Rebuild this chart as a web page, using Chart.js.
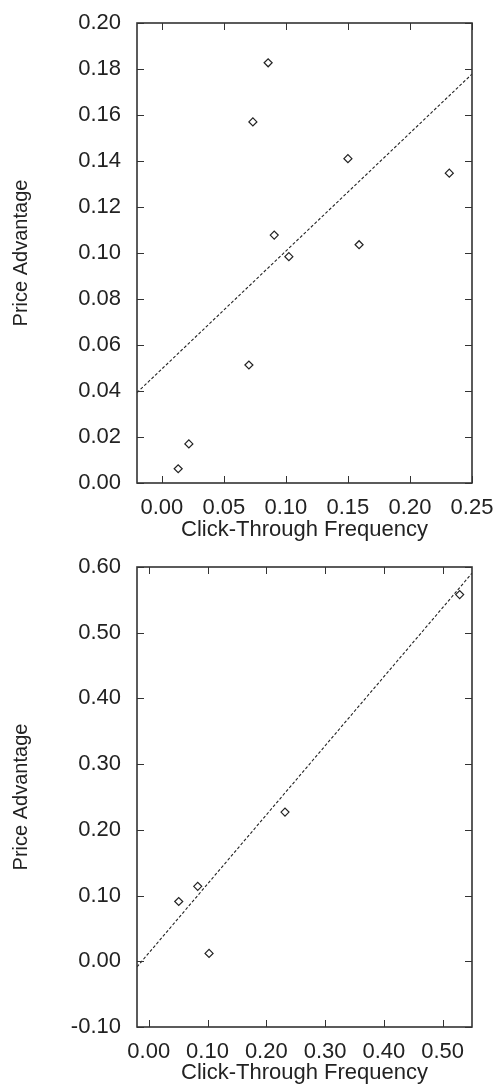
<!DOCTYPE html>
<html>
<head>
<meta charset="utf-8">
<script src="https://cdn.jsdelivr.net/npm/chart.js@4.4.0/dist/chart.umd.min.js"></script>
<style>
  body { margin: 0; background: #fff; }
  canvas { display: block; }
</style>
</head>
<body>
<canvas id="topChart" width="494" height="543"></canvas>
<canvas id="bottomChart" width="494" height="543"></canvas>
<script>
// top panel
const topX = [0.0132, 0.0218, 0.0702, 0.0734, 0.0857, 0.0906, 0.1024, 0.150, 0.159, 0.2317];
const topY = [0.0062, 0.0170, 0.0513, 0.1570, 0.1827, 0.1078, 0.0984, 0.1410, 0.1036, 0.1347];
const topTrendX = [-0.02, 0.25];
const topTrendY = [0.0393, 0.1778];
const topXTicks = [0.00, 0.05, 0.10, 0.15, 0.20, 0.25];
const topYTicks = [0.00, 0.02, 0.04, 0.06, 0.08, 0.10, 0.12, 0.14, 0.16, 0.18, 0.20];

// bottom panel
const bottomX = [0.051, 0.0833, 0.1026, 0.2318, 0.529];
const bottomY = [0.091, 0.114, 0.012, 0.227, 0.558];
const bottomTrendX = [-0.02, 0.55];
const bottomTrendY = [-0.0085, 0.5906];
const bottomXTicks = [0.00, 0.10, 0.20, 0.30, 0.40, 0.50];
const bottomYTicks = [-0.10, 0.00, 0.10, 0.20, 0.30, 0.40, 0.50, 0.60];

const xTitle = 'Click-Through Frequency';
const yTitle = 'Price Advantage';

Chart.defaults.font.family = '"Liberation Sans", Arial, sans-serif';
Chart.defaults.color = '#222';

const toPoints = (xs, ys) => xs.map((x, i) => ({ x: x, y: ys[i] }));

// gnuplot-like frame with inward ticks on all four sides
const framePlugin = {
    id: 'frame',
    afterDatasetsDraw(chart) {
        const { ctx, chartArea: a, scales: { x, y } } = chart;
        const len = 7;
        ctx.save();
        ctx.strokeStyle = '#333';
        ctx.lineWidth = 1;
        ctx.beginPath();
        x.ticks.forEach(t => {
            const px = Math.round(x.getPixelForValue(t.value)) + 0.5;
            ctx.moveTo(px, a.bottom); ctx.lineTo(px, a.bottom - len);
            ctx.moveTo(px, a.top); ctx.lineTo(px, a.top + len);
        });
        y.ticks.forEach(t => {
            const py = Math.round(y.getPixelForValue(t.value)) + 0.5;
            ctx.moveTo(a.left, py); ctx.lineTo(a.left + len, py);
            ctx.moveTo(a.right, py); ctx.lineTo(a.right - len, py);
        });
        ctx.stroke();
        ctx.lineWidth = 1.6;
        ctx.strokeRect(a.left, a.top, a.right - a.left, a.bottom - a.top);
        ctx.restore();
    }
};

// invisible tick marks are used only to push the labels away from the frame
const hiddenGrid = (len) => ({
    display: true, drawOnChartArea: false, drawTicks: true,
    tickLength: len, tickColor: 'rgba(0,0,0,0)'
});

function makeChart(id, pts, trend, xr, yr, xTicks, yTicks, padTop) {
    return new Chart(document.getElementById(id), {
        type: 'scatter',
        data: {
            datasets: [{
                data: pts,
                pointStyle: 'rectRot',
                pointRadius: 4,
                pointBorderWidth: 1.2,
                borderColor: '#222',
                backgroundColor: 'rgba(0,0,0,0)'
            }, {
                type: 'line',
                data: trend,
                borderColor: '#222',
                borderWidth: 1.1,
                borderDash: [3, 2],
                pointRadius: 0,
                fill: false
            }]
        },
        options: {
            responsive: false,
            animation: false,
            devicePixelRatio: 1,
            layout: { padding: { left: 0, right: 22, top: padTop, bottom: 0 } },
            plugins: { legend: { display: false }, tooltip: { enabled: false } },
            scales: {
                x: {
                    type: 'linear',
                    min: xr[0], max: xr[1],
                    afterBuildTicks: s => { s.ticks = xTicks.map(v => ({ value: v })); },
                    afterFit: s => { s.height = 543 - 483 - (padTop - 23); },
                    grid: hiddenGrid(12),
                    border: { display: false },
                    ticks: { padding: 0, font: { size: 22 }, maxRotation: 0, autoSkip: false,
                             callback: v => v.toFixed(2) },
                    title: { display: true, text: xTitle, font: { size: 22 }, padding: { top: 0, bottom: 0 } }
                },
                y: {
                    type: 'linear',
                    min: yr[0], max: yr[1],
                    afterBuildTicks: s => { s.ticks = yTicks.map(v => ({ value: v })); },
                    afterFit: s => { s.width = 137; },
                    grid: hiddenGrid(14),
                    border: { display: false },
                    ticks: { padding: 2, font: { size: 22 }, autoSkip: false,
                             callback: v => v.toFixed(2) },
                    title: { display: true, text: yTitle, font: { size: 20 }, padding: { top: 9, bottom: 0 } }
                }
            }
        },
        plugins: [framePlugin]
    });
}

makeChart('topChart', toPoints(topX, topY), toPoints(topTrendX, topTrendY),
    [-0.02, 0.25], [0, 0.20], topXTicks, topYTicks, 23);
makeChart('bottomChart', toPoints(bottomX, bottomY), toPoints(bottomTrendX, bottomTrendY),
    [-0.02, 0.55], [-0.10, 0.60], bottomXTicks, bottomYTicks, 24);
</script>
</body>
</html>
